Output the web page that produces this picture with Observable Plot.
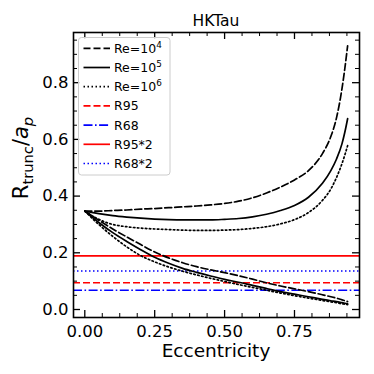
<!DOCTYPE html>
<html><head><meta charset="utf-8">
<script src="https://cdn.jsdelivr.net/npm/d3@7"></script>
<script src="https://cdn.jsdelivr.net/npm/@observablehq/plot@0.6"></script>
<style>body{margin:0;background:#fff;} #chart{width:374px;height:374px;}</style>
</head><body><div id="chart"></div>
<script>
const title = "HKTau";
const xLabel = "Eccentricity";
const ecc     = [0,0.05,0.10,0.15,0.20,0.25,0.30,0.35,0.40,0.45,0.50,0.55,0.60,0.65,0.70,0.75,0.80,0.85,0.88,0.90,0.92,0.93,0.94];
// upper branch
const re4Up   = [0.347,0.347,0.349,0.351,0.354,0.356,0.359,0.362,0.365,0.369,0.374,0.382,0.394,0.411,0.432,0.457,0.490,0.550,0.610,0.675,0.780,0.850,0.930];
const re5Up   = [0.347,0.338,0.331,0.326,0.322,0.319,0.317,0.316,0.316,0.316,0.318,0.321,0.327,0.336,0.349,0.367,0.396,0.445,0.490,0.530,0.585,0.625,0.673];
const re6Up   = [0.347,0.318,0.300,0.292,0.287,0.284,0.282,0.280,0.279,0.279,0.280,0.282,0.286,0.292,0.302,0.317,0.342,0.385,0.425,0.465,0.515,0.545,0.578];
// lower branch
const re4Low  = [0.347,0.315,0.284,0.256,0.229,0.203,0.182,0.165,0.151,0.140,0.130,0.119,0.107,0.094,0.083,0.073,0.063,0.052,0.045,0.040,0.034,0.031,0.028];
const re5Low  = [0.347,0.307,0.271,0.240,0.211,0.184,0.163,0.145,0.131,0.118,0.106,0.096,0.085,0.074,0.063,0.054,0.045,0.036,0.031,0.028,0.024,0.022,0.020];
const re6Low  = [0.347,0.300,0.258,0.221,0.190,0.168,0.150,0.135,0.122,0.110,0.099,0.088,0.078,0.068,0.058,0.049,0.040,0.032,0.027,0.024,0.020,0.019,0.017];
// horizontal reference lines
const refNames  = ["R95","R68","R95*2","R68*2"];
const refValues = [0.0945,0.068,0.189,0.136];
const xTicks = [0,0.25,0.5,0.75];
const yTicks = [0,0.2,0.4,0.6,0.8];

const curveStyles = [
  {data: re4Up,  dash: "7,3"},
  {data: re5Up,  dash: null},
  {data: re6Up,  dash: "1.5,2.5"},
  {data: re4Low, dash: "7,3"},
  {data: re5Low, dash: null},
  {data: re6Low, dash: "1.5,2.5"}
];
const refStyles = [
  {color: "#ff0000", dash: "7,3"},
  {color: "#0000ff", dash: "9,2.5,1.6,2.5"},
  {color: "#ff0000", dash: null},
  {color: "#0000ff", dash: "1.5,2.5"}
];

const W = 374, H = 374, mL = 73, mR = 15, mT = 32, mB = 57;
const PW = W - mL - mR, PH = H - mT - mB;
const xMinor = d3.range(1, 16).map(i => i * 0.0625).filter(v => v % 0.25 !== 0);
const yMinor = d3.range(1, 20).map(i => +(i * 0.05).toFixed(2)).filter(v => Math.abs(v / 0.2 - Math.round(v / 0.2)) > 1e-6);

const marks = [];
refValues.forEach((v, i) => {
  marks.push(Plot.ruleY([v], {stroke: refStyles[i].color, strokeWidth: 1.6, strokeDasharray: refStyles[i].dash}));
});
curveStyles.forEach(s => {
  const rows = ecc.map((e, i) => ({e, v: s.data[i]}));
  marks.push(Plot.line(rows, {x: "e", y: "v", stroke: "black", strokeWidth: 1.7, strokeDasharray: s.dash, curve: "monotone-x"}));
});
// inward ticks on all four sides
const tk = 7, tm = 4;
marks.push(
  Plot.ruleX(xTicks, {x: d => d, insetTop: PH - tk, stroke: "black", strokeWidth: 1.3}),
  Plot.ruleX(xTicks, {x: d => d, insetBottom: PH - tk, stroke: "black", strokeWidth: 1.3}),
  Plot.ruleX(xMinor, {x: d => d, insetTop: PH - tm, stroke: "black", strokeWidth: 1}),
  Plot.ruleX(xMinor, {x: d => d, insetBottom: PH - tm, stroke: "black", strokeWidth: 1}),
  Plot.ruleY(yTicks, {y: d => d, insetRight: PW - tk, stroke: "black", strokeWidth: 1.3}),
  Plot.ruleY(yTicks, {y: d => d, insetLeft: PW - tk, stroke: "black", strokeWidth: 1.3}),
  Plot.ruleY(yMinor, {y: d => d, insetRight: PW - tm, stroke: "black", strokeWidth: 1}),
  Plot.ruleY(yMinor, {y: d => d, insetLeft: PW - tm, stroke: "black", strokeWidth: 1}),
  Plot.frame({stroke: "black", strokeWidth: 1.6})
);

const chart = Plot.plot({
  width: W, height: H,
  marginLeft: mL, marginRight: mR, marginTop: mT, marginBottom: mB,
  style: {fontFamily: "DejaVu Sans", fontSize: "16.5px", color: "black", background: "white"},
  x: {domain: [-0.0404, 0.9825], ticks: xTicks, tickFormat: d3.format(".2f"), tickSize: 0, tickPadding: 8, label: null},
  y: {domain: [-0.0282, 0.977], ticks: yTicks, tickFormat: d3.format(".1f"), tickSize: 0, tickPadding: 5, label: null},
  marks
});
document.getElementById("chart").appendChild(chart);

const svg = d3.select(chart);
const font = "DejaVu Sans";
// title and x label
svg.append("text").attr("x", 216).attr("y", 26).attr("text-anchor", "middle")
  .attr("font-family", font).attr("font-size", 15.5).attr("fill", "black").text(title);
svg.append("text").attr("x", 216).attr("y", 357).attr("text-anchor", "middle")
  .attr("font-family", font).attr("font-size", 18.5).attr("fill", "black").text(xLabel);
// y-axis label with subscripts
const yl = svg.append("text")
  .attr("transform", "translate(28,158) rotate(-90)")
  .attr("text-anchor", "middle")
  .attr("font-family", font).attr("font-size", 21).attr("fill", "black");
yl.append("tspan").text("R");
yl.append("tspan").attr("font-size", 14.7).attr("dy", 4.5).text("trunc");
yl.append("tspan").attr("dy", -4.5).text("/");
yl.append("tspan").attr("font-style", "italic").text("a");
yl.append("tspan").attr("font-style", "italic").attr("font-size", 14.7).attr("dy", 4.5).text("p");

// legend
const legendItems = [
  {base: "Re=10", sup: "4", color: "black", dash: "7,3"},
  {base: "Re=10", sup: "5", color: "black", dash: null},
  {base: "Re=10", sup: "6", color: "black", dash: "1.5,2.5"},
  {base: refNames[0], sup: null, color: refStyles[0].color, dash: refStyles[0].dash},
  {base: refNames[1], sup: null, color: refStyles[1].color, dash: refStyles[1].dash},
  {base: refNames[2], sup: null, color: refStyles[2].color, dash: refStyles[2].dash},
  {base: refNames[3], sup: null, color: refStyles[3].color, dash: refStyles[3].dash}
];
const lg = svg.append("g");
lg.append("rect").attr("x", 78.5).attr("y", 37.5).attr("width", 91.5).attr("height", 137.5)
  .attr("rx", 3).attr("fill", "white").attr("fill-opacity", 0.85).attr("stroke", "#cccccc").attr("stroke-width", 1);
legendItems.forEach((it, i) => {
  const cy = 48.3 + i * 19.2;
  lg.append("line").attr("x1", 83.5).attr("x2", 110).attr("y1", cy).attr("y2", cy)
    .attr("stroke", it.color).attr("stroke-width", 1.7).attr("stroke-dasharray", it.dash);
  const t = lg.append("text").attr("x", 114).attr("y", cy + 4.5).attr("text-anchor", "start")
    .attr("font-family", font).attr("font-size", 12.5).attr("fill", "black");
  t.append("tspan").text(it.base);
  if (it.sup) t.append("tspan").attr("font-size", 8.8).attr("dy", -5).text(it.sup);
});
</script></body></html>
